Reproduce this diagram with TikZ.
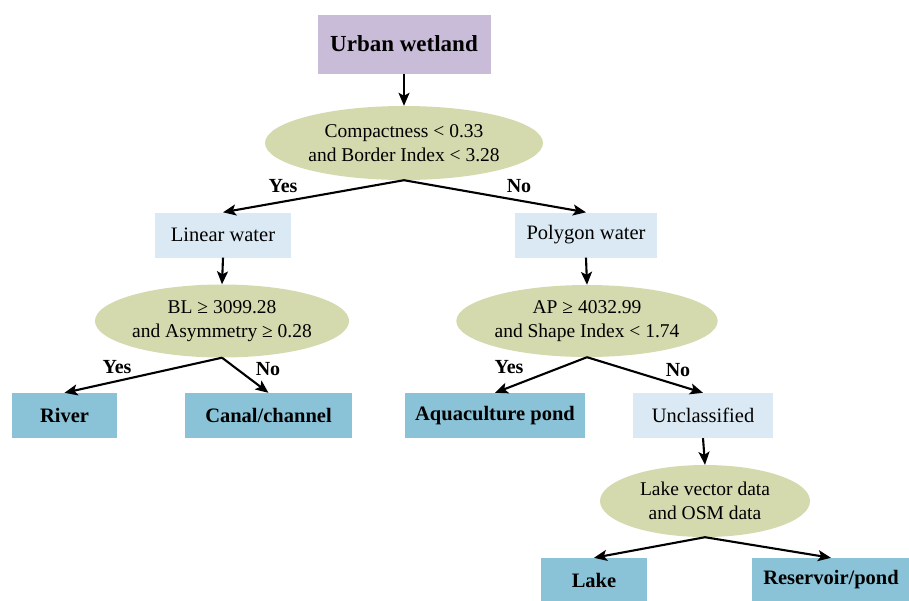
\documentclass[tikz,border=0pt]{standalone}
\usepackage{fontspec}
\setmainfont{Liberation Serif}
\usetikzlibrary{shapes.geometric,arrows.meta}
\definecolor{purpbox}{RGB}{201,188,216}
\definecolor{ellfill}{RGB}{213,218,174}
\definecolor{lightbox}{RGB}{218,233,243}
\definecolor{darkbox}{RGB}{138,195,215}
\tikzset{
  pnode/.style={rectangle, fill=purpbox, minimum width=173pt, minimum height=59pt, inner sep=0pt, font=\fontsize{23}{27}\selectfont\bfseries},
  cond/.style={ellipse, fill=ellfill, inner sep=0pt, align=center, font=\fontsize{19.5}{23.5}\selectfont},
  midbox/.style={rectangle, fill=lightbox, minimum height=45pt, inner sep=0pt, font=\fontsize{20.5}{24}\selectfont},
  leafbox/.style={rectangle, fill=darkbox, minimum height=45pt, inner sep=0pt, font=\fontsize{20.5}{24}\selectfont\bfseries},
  lbl/.style={font=\fontsize{20}{24}\selectfont\bfseries, inner sep=0pt},
  arr/.style={-{Stealth[length=13pt,width=11pt,inset=3pt]}, line width=2.1pt, black},
}
\begin{document}
\begin{tikzpicture}[x=1pt,y=-1pt]
\useasboundingbox (0,0) rectangle (909,600);
\node[pnode] (uw) at (404,44) {Urban wetland};
\node[cond, minimum width=278pt, minimum height=74pt] (e1) at (404,143) {Compactness < 0.33\\and Border Index < 3.28};
\node[midbox, minimum width=136pt] (lw) at (223,235) {Linear water};
\node[midbox, minimum width=142pt] (pw) at (586,235) {Polygon water};
\node[cond, minimum width=206pt, minimum height=73pt] (e2) at (222,321) {BL ≥ 3099.28\\and Asymmetry ≥ 0.28};
\node[cond, minimum width=222pt, minimum height=72pt] (e3) at (587,321) {AP ≥ 4032.99\\and Shape Index < 1.74};
\node[leafbox, minimum width=105pt] (river) at (64.5,415.5) {River};
\node[leafbox, minimum width=167pt] (canal) at (268.5,415.5) {Canal/channel};
\node[leafbox, minimum width=180pt] (aqua) at (495,415.5) {Aquaculture pond};
\node[midbox, minimum width=140pt] (uncl) at (703,415.5) {Unclassified};
\node[cond, minimum width=210pt, minimum height=72pt] (e4) at (705,501) {Lake vector data\\and OSM data};
\node[leafbox, minimum width=106pt, minimum height=44pt] (lake) at (594,580) {Lake};
\node[leafbox, minimum width=158pt, minimum height=44pt] (res) at (831,580) {Reservoir/pond};

\node[lbl] (y1) at (283,186) {Yes};
\node[lbl] (n1) at (519,186) {No};
\node[lbl] (y2) at (117,367) {Yes};
\node[lbl] (n2) at (268,369) {No};
\node[lbl] (y3) at (509,367) {Yes};
\node[lbl] (n3) at (678,370) {No};

\draw[arr] (uw.south) -- (e1.north);
\draw[arr] (e1.south) -- (lw.north);
\draw[arr] (e1.south) -- (pw.north);
\draw[arr] (lw.south) -- (e2.north);
\draw[arr] (pw.south) -- (e3.north);
\draw[arr] (e2.south) -- (river.north);
\draw[arr] (e2.south) -- (canal.north);
\draw[arr] (e3.south) -- (aqua.north);
\draw[arr] (e3.south) -- (uncl.north);
\draw[arr] (uncl.south) -- (e4.north);
\draw[arr] (e4.south) -- (lake.north);
\draw[arr] (e4.south) -- (res.north);
\end{tikzpicture}
\end{document}
